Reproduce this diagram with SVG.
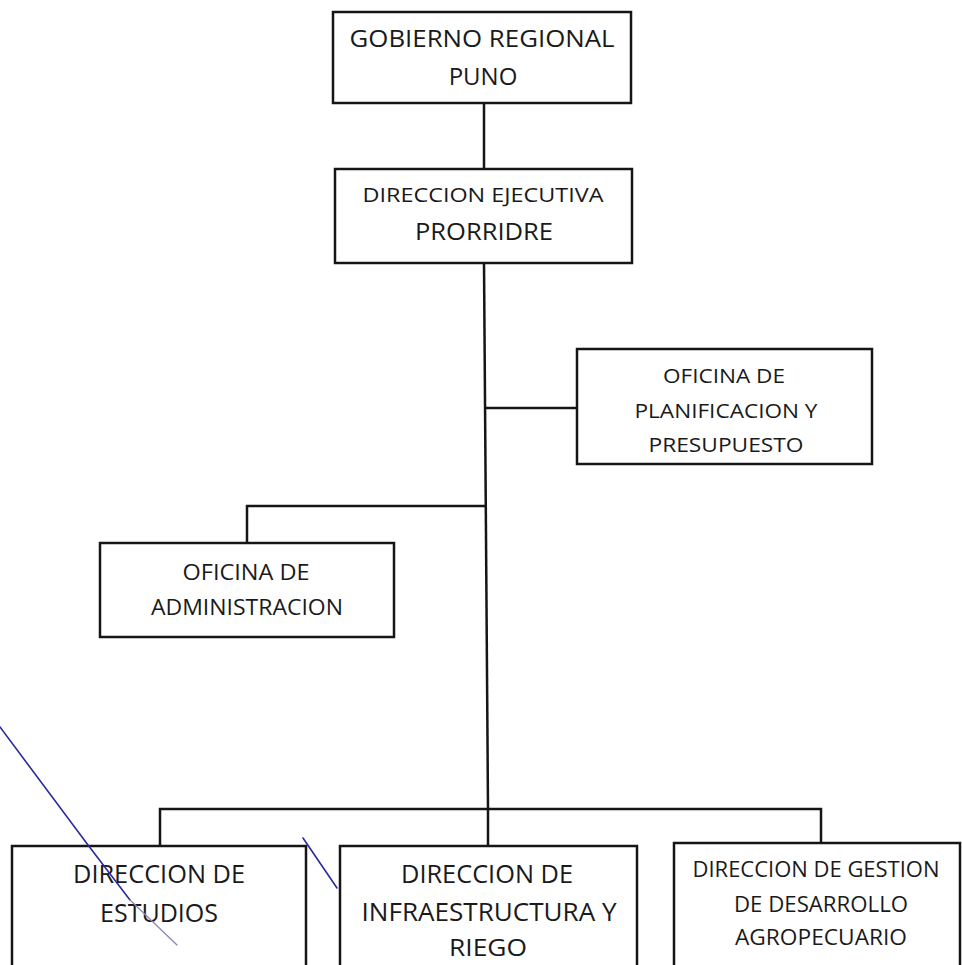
<svg xmlns="http://www.w3.org/2000/svg" width="962" height="965" viewBox="0 0 962 965">
<style>
.box{fill:#fff;stroke:#151515;stroke-width:2.5}
.con{fill:none;stroke:#151515;stroke-width:2.5}
text{font-family:"Open Sans","Liberation Sans",sans-serif;fill:#1a1a1a;text-anchor:middle}
.pen{fill:none;stroke:#2a2aa0;stroke-width:1.6;stroke-linecap:round}
</style>
<rect width="962" height="965" fill="#fff"/>
<g id="connectors">
<path class="con" d="M484 103V169"/>
<path class="con" d="M484 263L488 809"/>
<path class="con" d="M485 408H577"/>
<path class="con" d="M486 506H247V543"/>
<path class="con" d="M160 847V809H821V843"/>
<path class="con" d="M488 809V846"/>
</g>
<g id="gobierno">
<rect class="box" x="333" y="12" width="298" height="91"/>
<text x="482" y="47" font-size="24" textLength="265" lengthAdjust="spacingAndGlyphs">GOBIERNO REGIONAL</text>
<text x="483" y="85" font-size="24">PUNO</text>
</g>
<g id="direccion-ejecutiva">
<rect class="box" x="335" y="169" width="297" height="94"/>
<text x="483" y="202" font-size="20" textLength="241" lengthAdjust="spacingAndGlyphs">DIRECCION EJECUTIVA</text>
<text x="484" y="240" font-size="24" textLength="138" lengthAdjust="spacingAndGlyphs">PRORRIDRE</text>
</g>
<g id="planificacion">
<rect class="box" x="577" y="349" width="295" height="115"/>
<text x="724" y="383" font-size="20" textLength="122" lengthAdjust="spacingAndGlyphs">OFICINA DE</text>
<text x="726" y="418" font-size="20" textLength="183" lengthAdjust="spacingAndGlyphs">PLANIFICACION Y</text>
<text x="726" y="452" font-size="20" textLength="155" lengthAdjust="spacingAndGlyphs">PRESUPUESTO</text>
</g>
<g id="administracion">
<rect class="box" x="100" y="543" width="294" height="94"/>
<text x="246" y="580" font-size="21" textLength="127" lengthAdjust="spacingAndGlyphs">OFICINA DE</text>
<text x="247" y="615" font-size="21" textLength="192" lengthAdjust="spacingAndGlyphs">ADMINISTRACION</text>
</g>
<g id="estudios">
<rect class="box" x="12" y="846" width="294" height="130"/>
<text x="159" y="883" font-size="25" textLength="172" lengthAdjust="spacingAndGlyphs">DIRECCION DE</text>
<text x="159" y="922" font-size="25" textLength="118" lengthAdjust="spacingAndGlyphs">ESTUDIOS</text>
</g>
<g id="infraestructura">
<rect class="box" x="340" y="846" width="297" height="130"/>
<text x="487" y="883" font-size="25" textLength="172" lengthAdjust="spacingAndGlyphs">DIRECCION DE</text>
<text x="489" y="921" font-size="25" textLength="255" lengthAdjust="spacingAndGlyphs">INFRAESTRUCTURA Y</text>
<text x="488" y="956" font-size="24" textLength="78" lengthAdjust="spacingAndGlyphs">RIEGO</text>
</g>
<g id="desarrollo">
<rect class="box" x="674" y="843" width="286" height="133"/>
<text x="816" y="877" font-size="22" textLength="247" lengthAdjust="spacingAndGlyphs">DIRECCION DE GESTION</text>
<text x="821" y="912" font-size="22" textLength="174" lengthAdjust="spacingAndGlyphs">DE DESARROLLO</text>
<text x="821" y="945" font-size="22" textLength="172" lengthAdjust="spacingAndGlyphs">AGROPECUARIO</text>
</g>
<g id="pen-marks">
<path class="pen" d="M0 727L88 845L130 900"/>
<path d="M130 900L177 945" fill="none" stroke="#8a8ab0" stroke-width="1.3" stroke-linecap="round"/>
<path class="pen" d="M303 838L337 888"/>
</g>
</svg>
